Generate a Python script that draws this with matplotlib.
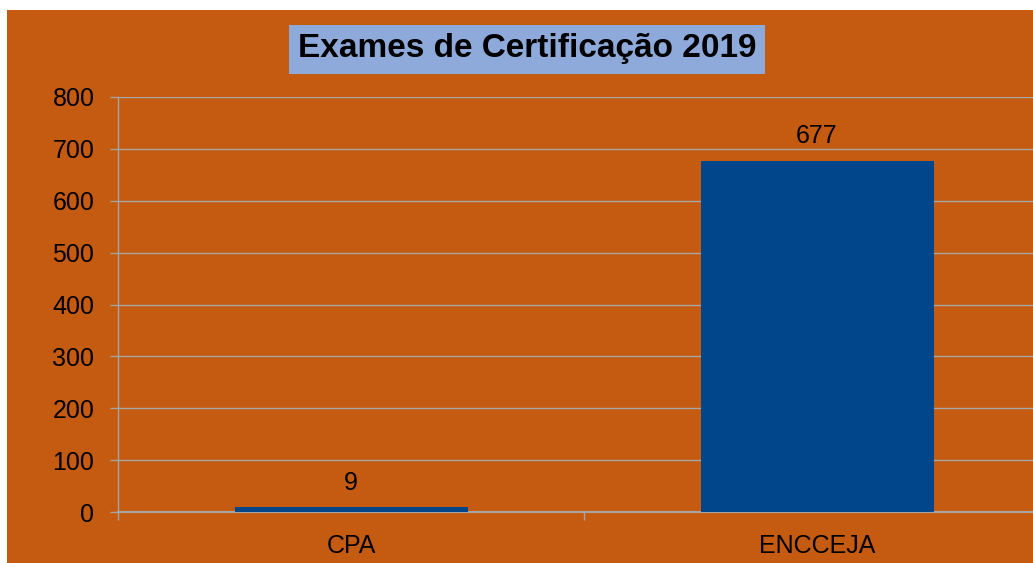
import matplotlib
matplotlib.use("Agg")
import matplotlib.pyplot as plt
from matplotlib.patches import Rectangle

categories = ["CPA", "ENCCEJA"]
values = [9, 677]
yticks = [0, 100, 200, 300, 400, 500, 600, 700, 800]
title = "Exames de Certificação 2019"

ORANGE = "#C55A11"
BAR = "#01468A"
GRID = "#A6A6A6"

plt.rcParams['font.family'] = ['Liberation Sans', 'DejaVu Sans']

W, H = 1033, 563
fig = plt.figure(figsize=(W / 100, H / 100), dpi=100, facecolor="white")
fig.patches.append(Rectangle((7 / W, 0), 1 - 7 / W, (H - 10) / H,
                             transform=fig.transFigure, facecolor=ORANGE,
                             edgecolor="none", zorder=-10))

left = 118 / W
right = 1050 / W
bottom = (H - 512) / H
top = (H - 97) / H
ax = fig.add_axes([left, bottom, right - left, top - bottom])
ax.set_zorder(5)
ax.set_facecolor("none")

x = list(range(len(categories)))
bars = ax.bar(x, values, width=0.5, color=BAR, zorder=3)
ax.set_xlim(-0.5, len(categories) - 0.5)
ax.set_ylim(0, 800)
ax.set_yticks(yticks)
ax.set_yticklabels([str(t) for t in yticks])
ax.set_xticks(x)
ax.set_xticklabels(categories)
ax.set_xticks([i - 0.5 for i in range(len(categories) + 1)], minor=True)

ax.tick_params(axis="y", which="major", length=6, color=GRID, labelsize=18,
               pad=11, labelcolor="black", width=1)
ax.tick_params(axis="x", which="major", length=0, labelsize=18, pad=16,
               labelcolor="black")
ax.tick_params(axis="x", which="minor", length=6, color=GRID, width=1)

ax.yaxis.grid(True, color=GRID, linewidth=1, zorder=1)
ax.set_axisbelow(True)
for s in ["top", "right"]:
    ax.spines[s].set_visible(False)
ax.spines["left"].set_color(GRID)
ax.spines["bottom"].set_color(GRID)
ax.spines["left"].set_linewidth(1)
ax.spines["bottom"].set_linewidth(1.5)

for xi, v in zip(x, values):
    ax.annotate(str(v), (xi, v), xytext=(0, 9), textcoords="offset points",
                ha="center", va="bottom", fontsize=18, color="black")

t = fig.text(527 / W, (H - 49) / H, title, ha="center", va="center",
             fontsize=24, fontweight="bold", color="black",
             bbox=dict(boxstyle="square,pad=0.27", facecolor="#8EAADB",
                       edgecolor="none"))
t.set_zorder(10)

fig.savefig("out.png", dpi=100, facecolor=fig.get_facecolor())
